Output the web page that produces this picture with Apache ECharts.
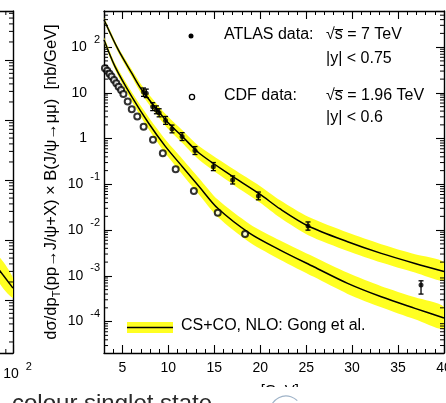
<!DOCTYPE html>
<html>
<head>
<meta charset="utf-8">
<script src="https://cdn.jsdelivr.net/npm/echarts@6/dist/echarts.min.js"></script>
<style>
html, body { margin: 0; padding: 0; background: #fff; }
#main { width: 446px; height: 403px; }
</style>
</head>
<body>
<div id="main"></div>
<script>
// axis ranges (pT in GeV, cross section in nb/GeV)
var xMin = 3, xMax = 40;
var yMin = 2.06e-5, yMax = 617;

// CDF data (open circles)
var cdfX = [3.1, 3.35, 3.6, 3.82, 4.09, 4.34, 4.59, 4.86, 5.11, 5.58, 6.02, 6.62, 7.31, 8.33, 9.4, 10.8, 12.78, 15.38, 18.35];
var cdfY = [34.7, 30.3, 26.1, 22.8, 19.2, 16.3, 13.7, 11.6, 9.5, 6.46, 4.4, 3.03, 1.83, 0.94, 0.48, 0.214, 0.0718, 0.024, 0.0082];

// ATLAS data (filled points with errors)
var atlasX = [7.3, 7.6, 8.3, 8.7, 9.0, 9.7, 10.4, 11.5, 12.9, 14.9, 17.0, 19.8, 25.2, 37.5];
var atlasY = [10.4, 9.8, 5.0, 4.25, 3.7, 2.5, 1.63, 1.11, 0.55, 0.244, 0.125, 0.056, 0.0123, 6.3e-4];
var atlasLo = [8.4, 7.9, 4.1, 3.5, 3.0, 2.05, 1.34, 0.91, 0.45, 0.2, 0.102, 0.046, 0.01, 4.0e-4];
var atlasHi = [12.8, 12.1, 6.1, 5.2, 4.5, 3.05, 1.98, 1.35, 0.67, 0.3, 0.153, 0.068, 0.0151, 7.8e-4];

// CS+CO NLO prediction, 7 TeV |y|<0.75
var thAtlasX = [3, 4.56, 6.02, 7.12, 9.7, 11.53, 13.37, 17.03, 19.97, 22.17, 25.22, 29.51, 33.17, 36.84, 40];
var thAtlasY = [398, 87, 27, 11.6, 2.56, 1.11, 0.48, 0.148, 0.061, 0.029, 0.0123, 5.57e-3, 3.1e-3, 1.87e-3, 1.25e-3];
var thAtlasLo = [363, 75.8, 22.5, 9.2, 1.9, 0.8, 0.34, 0.1, 0.0403, 0.0187, 0.00776, 3.51e-3, 1.96e-3, 1.18e-3, 7.9e-4];
var thAtlasHi = [436, 100, 32.5, 14.6, 3.45, 1.53, 0.68, 0.219, 0.0923, 0.0449, 0.0195, 8.83e-3, 4.91e-3, 2.96e-3, 1.98e-3];

// CS+CO NLO prediction, 1.96 TeV |y|<0.6
var thCdfX = [3, 4.2, 6.02, 7.86, 9.7, 11.53, 13.37, 15.38, 18.87, 22.17, 25.83, 29.51, 33.17, 36.84, 40];
var thCdfY = [145, 37.6, 8.3, 2.17, 0.668, 0.244, 0.089, 0.03, 8.5e-3, 3.67e-3, 1.58e-3, 6.86e-4, 3.49e-4, 1.95e-4, 1.2e-4];
var thCdfLo = [129, 32.0, 6.6, 1.61, 0.473, 0.165, 0.0588, 0.0194, 5.36e-3, 2.26e-3, 9.52e-4, 4.04e-4, 2.06e-4, 1.12e-4, 6.9e-5];
var thCdfHi = [163, 44.2, 10.4, 2.93, 0.944, 0.361, 0.135, 0.0465, 0.0135, 5.95e-3, 2.62e-3, 1.165e-3, 5.93e-4, 3.39e-4, 2.09e-4];

// piece of the neighbouring panel on the left
var fragX = [80, 100];
var fragY = [3.4, 1.58];
var fragLo = [2.15, 1.08];
var fragHi = [5.4, 2.33];

var FONT = '"Liberation Sans", Arial, Helvetica, sans-serif';
var YELLOW = '#ffff22';

function logMinorTicks(lo, hi) {
    var out = [];
    for (var k = -6; k <= 6; k++) {
        for (var m = 2; m <= 9; m++) {
            var v = m * Math.pow(10, k);
            if (v > lo && v < hi) out.push(v);
        }
    }
    return out;
}
var yMinor = logMinorTicks(yMin, yMax);
var fragYMinor = logMinorTicks(0.131, 65600);
var fragXMinor = logMinorTicks(1, 100);

function powLabel(v) {
    var l = Math.log10(v);
    var e = Math.round(l);
    if (Math.abs(l - e) > 1e-6) return '';
    if (e === 0) return '{p|1}';
    if (e === 1) return '{p|10}';
    return '{b|10}{s|' + e + '}';
}
var powRich = {
    p: {fontSize: 14, lineHeight: 26, fontFamily: FONT, color: '#000', padding: [0, 13, 0, 0]},
    b: {fontSize: 14, lineHeight: 26, fontFamily: FONT, color: '#000'},
    s: {fontSize: 11, lineHeight: 12, verticalAlign: 'top', fontFamily: FONT, color: '#000', padding: [0, 0, 0, 7]}
};
var fragRich = {
    b: {fontSize: 14, lineHeight: 26, fontFamily: FONT, color: '#000', padding: [0, 0, 0, 9]},
    s: {fontSize: 11, lineHeight: 12, verticalAlign: 'top', fontFamily: FONT, color: '#000', padding: [0, 0, 0, 7]}
};

function bandSeries(xs, lo, hi, xi, yi) {
    var data = xs.map(function (x, i) { return [x, lo[i], hi[i]]; });
    return {
        type: 'custom', xAxisIndex: xi, yAxisIndex: yi, clip: true, silent: true, z: 1,
        data: data,
        renderItem: function (params, api) {
            if (params.dataIndex !== 0) return;
            var top = data.map(function (d) { return api.coord([d[0], d[2]]); });
            var bot = data.map(function (d) { return api.coord([d[0], d[1]]); }).reverse();
            return {type: 'polygon', shape: {points: top.concat(bot), smooth: 0.25}, style: {fill: YELLOW}};
        }
    };
}

function lineSeries(xs, ys, xi, yi) {
    return {
        type: 'line', xAxisIndex: xi, yAxisIndex: yi, smooth: 0.3, showSymbol: false, silent: true, z: 2,
        lineStyle: {color: '#000', width: 1.5},
        data: xs.map(function (x, i) { return [x, ys[i]]; })
    };
}

// small log ticks drawn on the frame of a grid (ticks inward)
function yMinorSeries(vals, xLeft, xRight, xi, yi, len) {
    return {
        type: 'custom', xAxisIndex: xi, yAxisIndex: yi, silent: true, z: 5,
        data: vals.map(function (v) { return [xLeft, v]; }),
        renderItem: function (params, api) {
            var a = api.coord([xLeft, api.value(1)]);
            var b = api.coord([xRight, api.value(1)]);
            return {type: 'group', children: [
                {type: 'line', shape: {x1: a[0], y1: a[1], x2: a[0] + len, y2: a[1]}, style: {stroke: '#000', lineWidth: 1}},
                {type: 'line', shape: {x1: b[0], y1: b[1], x2: b[0] - len, y2: b[1]}, style: {stroke: '#000', lineWidth: 1}}
            ]};
        }
    };
}
function xMinorSeries(vals, yBottom, yTop, xi, yi, len) {
    return {
        type: 'custom', xAxisIndex: xi, yAxisIndex: yi, silent: true, z: 5,
        data: vals.map(function (v) { return [v, yBottom]; }),
        renderItem: function (params, api) {
            var a = api.coord([api.value(0), yBottom]);
            var b = api.coord([api.value(0), yTop]);
            return {type: 'group', children: [
                {type: 'line', shape: {x1: a[0], y1: a[1], x2: a[0], y2: a[1] - len}, style: {stroke: '#000', lineWidth: 1}},
                {type: 'line', shape: {x1: b[0], y1: b[1], x2: b[0], y2: b[1] + len}, style: {stroke: '#000', lineWidth: 1}}
            ]};
        }
    };
}

var axisLine = {lineStyle: {color: '#000', width: 1.4}};
var majorTick = {inside: true, length: 8, lineStyle: {color: '#000', width: 1.1}};
var minorTickAx = {inside: true, length: 4, lineStyle: {color: '#000', width: 1}};

var chart = echarts.init(document.getElementById('main'));
chart.setOption({
    animation: false,
    backgroundColor: '#fff',
    grid: [
        {left: 104, right: 2, top: 11, bottom: 50, outerBoundsMode: 'none'},
        {left: -300, width: 313, top: 11, bottom: 50, outerBoundsMode: 'none'}
    ],
    xAxis: [
        {   // main, bottom
            type: 'value', gridIndex: 0, position: 'bottom', min: xMin, max: xMax, splitNumber: 8,
            axisLine: axisLine, axisTick: majorTick, splitLine: {show: false},
            axisLabel: {showMinLabel: false, margin: 8, fontSize: 14, fontFamily: FONT, color: '#000'}
        },
        {   // main, top mirror
            type: 'value', gridIndex: 0, position: 'top', min: xMin, max: xMax, splitNumber: 8,
            axisLine: axisLine, axisTick: majorTick, splitLine: {show: false}, axisLabel: {show: false}
        },
        {   // 1 GeV ticks, bottom
            type: 'value', gridIndex: 0, position: 'bottom', min: xMin, max: xMax, interval: 1,
            axisLine: {show: false}, axisTick: minorTickAx, splitLine: {show: false}, axisLabel: {show: false}
        },
        {   // 1 GeV ticks, top
            type: 'value', gridIndex: 0, position: 'top', min: xMin, max: xMax, interval: 1,
            axisLine: {show: false}, axisTick: minorTickAx, splitLine: {show: false}, axisLabel: {show: false}
        },
        {   // left fragment, bottom
            type: 'log', gridIndex: 1, position: 'bottom', min: 1, max: 100,
            axisLine: axisLine, axisTick: majorTick, splitLine: {show: false},
            axisLabel: {margin: 8, formatter: powLabel, rich: fragRich, showMinLabel: false}
        },
        {   // left fragment, top
            type: 'log', gridIndex: 1, position: 'top', min: 1, max: 100,
            axisLine: axisLine, axisTick: majorTick, splitLine: {show: false}, axisLabel: {show: false}
        }
    ],
    yAxis: [
        {
            type: 'log', gridIndex: 0, position: 'left', min: yMin, max: yMax, logBase: 10,
            axisLine: axisLine, axisTick: majorTick, splitLine: {show: false},
            axisLabel: {margin: 4, formatter: powLabel, rich: powRich, showMinLabel: false, showMaxLabel: false},
            name: '{t|d\u03c3/dp}{u|T}{t|(pp\u2192J/\u03c8+X) \u00d7 B(J/\u03c8\u2192\u03bc\u03bc)  [nb/GeV]}',
            nameLocation: 'middle', nameRotate: 90, nameGap: 42, nameMoveOverlap: false,
            nameTextStyle: {
                rich: {
                    t: {fontSize: 16.5, fontFamily: FONT, color: '#000', lineHeight: 22},
                    u: {fontSize: 11, fontFamily: FONT, color: '#000', lineHeight: 10, verticalAlign: 'bottom'}
                }
            }
        },
        {
            type: 'log', gridIndex: 0, position: 'right', min: yMin, max: yMax, logBase: 10,
            axisLine: axisLine, axisTick: majorTick, splitLine: {show: false}, axisLabel: {show: false}
        },
        {
            type: 'log', gridIndex: 1, position: 'right', min: 0.131, max: 65600, logBase: 10,
            axisLine: axisLine, axisTick: majorTick, splitLine: {show: false}, axisLabel: {show: false}
        }
    ],
    series: [
        bandSeries(thAtlasX, thAtlasLo, thAtlasHi, 0, 0),
        bandSeries(thCdfX, thCdfLo, thCdfHi, 0, 0),
        lineSeries(thAtlasX, thAtlasY, 0, 0),
        lineSeries(thCdfX, thCdfY, 0, 0),
        {
            type: 'custom', xAxisIndex: 0, yAxisIndex: 0, silent: true, z: 3,
            data: atlasX.map(function (x, i) { return [x, atlasLo[i], atlasHi[i]]; }),
            renderItem: function (params, api) {
                var a = api.coord([api.value(0), api.value(1)]);
                var b = api.coord([api.value(0), api.value(2)]);
                var w = 2.5;
                var st = {stroke: '#000', lineWidth: 1.3};
                return {type: 'group', children: [
                    {type: 'line', shape: {x1: a[0], y1: a[1], x2: b[0], y2: b[1]}, style: st},
                    {type: 'line', shape: {x1: a[0] - w, y1: a[1], x2: a[0] + w, y2: a[1]}, style: st},
                    {type: 'line', shape: {x1: b[0] - w, y1: b[1], x2: b[0] + w, y2: b[1]}, style: st}
                ]};
            }
        },
        {
            type: 'scatter', xAxisIndex: 0, yAxisIndex: 0, symbol: 'circle', symbolSize: 5, z: 4, silent: true,
            itemStyle: {color: '#000'},
            data: atlasX.map(function (x, i) { return [x, atlasY[i]]; })
        },
        {
            type: 'scatter', xAxisIndex: 0, yAxisIndex: 0, symbol: 'emptyCircle', symbolSize: 6, z: 4, silent: true,
            itemStyle: {color: '#000', borderWidth: 1.3},
            data: cdfX.map(function (x, i) { return [x, cdfY[i]]; })
        },
        yMinorSeries(yMinor, xMin, xMax, 0, 0, 4),
        bandSeries(fragX, fragLo, fragHi, 4, 2),
        lineSeries(fragX, fragY, 4, 2),
        yMinorSeries(fragYMinor, 1, 100, 4, 2, 4),
        xMinorSeries(fragXMinor, 0.131, 65600, 4, 2, 4)
    ],
    graphic: [
        // legend, top right
        {type: 'circle', shape: {cx: 191, cy: 36, r: 2.5}, style: {fill: '#000'}},
        {type: 'text', left: 224, top: 27, style: {text: 'ATLAS data:', font: '16px ' + FONT, fill: '#000'}},
        {type: 'text', left: 326, top: 27, style: {text: '\u221as = 7 TeV', font: '16px ' + FONT, fill: '#000'}},
        {type: 'line', shape: {x1: 334.5, y1: 29.5, x2: 343, y2: 29.5}, style: {stroke: '#000', lineWidth: 1}},
        {type: 'text', left: 326, top: 51, style: {text: '|y| < 0.75', font: '16px ' + FONT, fill: '#000'}},
        {type: 'circle', shape: {cx: 192, cy: 97, r: 2.6}, style: {fill: '#fff', stroke: '#000', lineWidth: 1.3}},
        {type: 'text', left: 224, top: 88, style: {text: 'CDF data:', font: '16px ' + FONT, fill: '#000'}},
        {type: 'text', left: 326, top: 88, style: {text: '\u221as = 1.96 TeV', font: '16px ' + FONT, fill: '#000'}},
        {type: 'line', shape: {x1: 334.5, y1: 90.5, x2: 343, y2: 90.5}, style: {stroke: '#000', lineWidth: 1}},
        {type: 'text', left: 326, top: 110, style: {text: '|y| < 0.6', font: '16px ' + FONT, fill: '#000'}},
        // legend, bottom left
        {type: 'rect', shape: {x: 127, y: 322, width: 46, height: 11}, style: {fill: YELLOW}},
        {type: 'line', shape: {x1: 127, y1: 327.5, x2: 173, y2: 327.5}, style: {stroke: '#000', lineWidth: 1.5}},
        {type: 'text', left: 181, top: 318, style: {text: 'CS+CO, NLO: Gong et al.', font: '16px ' + FONT, fill: '#000'}},
        // x title, mostly hidden by the page text below
        {type: 'text', left: 244, top: 383, style: {text: 'p  [GeV]', font: '15px ' + FONT, fill: '#000'}},
        {type: 'rect', shape: {x: 0, y: 387, width: 446, height: 16}, style: {fill: '#fff'}, z: 10},
        {type: 'text', left: 12, top: 392, z: 11, style: {text: 'colour singlet state', font: '24px ' + FONT, fill: '#2a2a2a'}},
        {type: 'arc', z: 11, shape: {cx: 286, cy: 412, r: 16, startAngle: Math.PI * 1.1, endAngle: Math.PI * 1.75}, style: {stroke: '#9fb3c8', lineWidth: 1.2, fill: null}}
    ]
});
</script>
</body>
</html>
